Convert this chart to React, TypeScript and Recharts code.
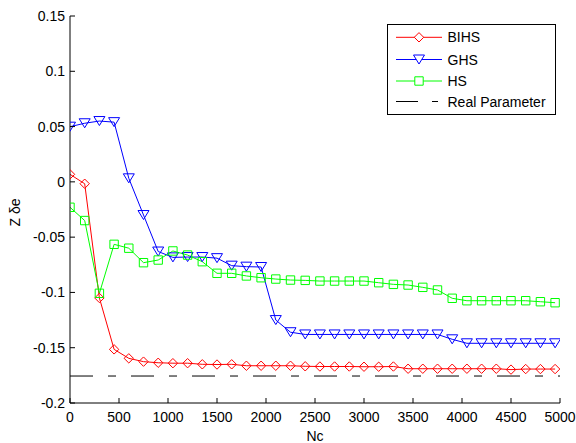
import React from 'react';
import { LineChart, Line, XAxis, YAxis, Legend } from 'recharts';

const nc = [0, 150, 300, 450, 600, 750, 900, 1050, 1200, 1350, 1500, 1650, 1800, 1950, 2100, 2250, 2400, 2550, 2700, 2850, 3000, 3150, 3300, 3450, 3600, 3750, 3900, 4050, 4200, 4350, 4500, 4650, 4800, 4950];
const bihs = [0.0068, -0.0017, -0.105, -0.1515, -0.1596, -0.1626, -0.1636, -0.164, -0.164, -0.165, -0.1652, -0.165, -0.1663, -0.1663, -0.1663, -0.1663, -0.1668, -0.1670, -0.1670, -0.1670, -0.1672, -0.1672, -0.1670, -0.1690, -0.1690, -0.1690, -0.1690, -0.1690, -0.1690, -0.1690, -0.1698, -0.1693, -0.1693, -0.1693];
const ghs = [0.0499, 0.053, 0.055, 0.054, 0.0032, -0.030, -0.063, -0.0683, -0.068, -0.068, -0.069, -0.0758, -0.0767, -0.077, -0.125, -0.136, -0.138, -0.138, -0.138, -0.138, -0.138, -0.138, -0.138, -0.138, -0.138, -0.138, -0.1424, -0.146, -0.146, -0.146, -0.146, -0.146, -0.146, -0.146];
const hs = [-0.023, -0.035, -0.1008, -0.0565, -0.060, -0.0731, -0.0707, -0.0625, -0.0662, -0.0722, -0.0827, -0.0827, -0.0851, -0.0867, -0.0879, -0.0888, -0.0891, -0.0897, -0.0897, -0.0897, -0.0897, -0.0912, -0.0927, -0.0933, -0.0954, -0.0978, -0.1053, -0.1075, -0.1075, -0.1075, -0.1075, -0.1075, -0.1084, -0.1093];
const realParameter = -0.1756;
const realX = [0, 5000];

const xTicks = [0, 500, 1000, 1500, 2000, 2500, 3000, 3500, 4000, 4500, 5000];
const xTickLabels = ['0', '500', '1000', '1500', '2000', '2500', '3000', '3500', '4000', '4500', '5000'];
const yTicks = [-0.2, -0.15, -0.1, -0.05, 0, 0.05, 0.1, 0.15];
const yTickLabels = ['-0.2', '-0.15', '-0.1', '-0.05', '0', '0.05', '0.1', '0.15'];

const seriesNames = ['BIHS', 'GHS', 'HS', 'Real Parameter'];
const seriesColors = ['#ff0000', '#0000ff', '#00ff00', '#000000'];

const FONT = '"Liberation Sans", Arial, Helvetica, sans-serif';
const REAL_DASH = '23 15 8 15';

const data = nc.map((x, i) => ({ x, bihs: bihs[i], ghs: ghs[i], hs: hs[i] }));
const realData = realX.map((x) => ({ x, real: realParameter }));

const diamondPath = (cx: number, cy: number, r: number) =>
  `M${cx},${cy - r}L${cx + r},${cy}L${cx},${cy + r}L${cx - r},${cy}Z`;
const trianglePath = (cx: number, cy: number) =>
  `M${cx - 5.5},${cy - 4.5}L${cx + 5.5},${cy - 4.5}L${cx},${cy + 4.5}Z`;
const squarePath = (cx: number, cy: number, h: number) =>
  `M${cx - h},${cy - h}L${cx + h},${cy - h}L${cx + h},${cy + h}L${cx - h},${cy + h}Z`;

const makeDot = (kind: string, color: string) => (props: any) => {
  const { cx, cy, index } = props;
  if (cx == null || cy == null) return <g key={`${kind}-${index}`} />;
  let d = '';
  if (kind === 'diamond') d = diamondPath(cx, cy, 4.7);
  else if (kind === 'triangle') d = trianglePath(cx, cy);
  else d = squarePath(cx, cy, 4.2);
  return <path key={`${kind}-${index}`} d={d} fill="none" stroke={color} strokeWidth={1} />;
};

const BottomTick = (props: any) => {
  const { x, y, payload } = props;
  const i = xTicks.indexOf(payload.value);
  return (
    <g>
      <line x1={x} x2={x} y1={y} y2={y - 5} stroke="#000" strokeWidth={1} />
      <text x={x} y={y + 18.5} textAnchor="middle" fontSize={14} fontFamily={FONT} fill="#000">
        {xTickLabels[i]}
      </text>
    </g>
  );
};
const TopTick = (props: any) => {
  const { x, y } = props;
  return <line x1={x} x2={x} y1={y} y2={y + 5} stroke="#000" strokeWidth={1} />;
};
const LeftTick = (props: any) => {
  const { x, y, payload } = props;
  const i = yTicks.findIndex((t) => Math.abs(t - payload.value) < 1e-9);
  return (
    <g>
      <line x1={x} x2={x + 5} y1={y} y2={y} stroke="#000" strokeWidth={1} />
      <text x={x - 5} y={y + 5} textAnchor="end" fontSize={14} fontFamily={FONT} fill="#000">
        {yTickLabels[i]}
      </text>
    </g>
  );
};
const RightTick = (props: any) => {
  const { x, y } = props;
  return <line x1={x - 5} x2={x} y1={y} y2={y} stroke="#000" strokeWidth={1} />;
};

const XLabel = (props: any) => {
  const vb = props.viewBox || { x: 70, y: 403, width: 490, height: 40 };
  return (
    <text x={vb.x + vb.width / 2} y={vb.y + 38} textAnchor="middle" fontSize={14} fontFamily={FONT} fill="#000">
      Nc
    </text>
  );
};
const YLabel = (props: any) => {
  const vb = props.viewBox || { x: 0, y: 16, width: 70, height: 387 };
  const cx = vb.x + 20;
  const cy = vb.y + vb.height / 2 + 3;
  return (
    <text x={cx} y={cy} transform={`rotate(-90 ${cx} ${cy})`} textAnchor="middle" fontSize={14} fontFamily={FONT} fill="#000">
      Z δe
    </text>
  );
};

const LegendBox = () => {
  const rows = [13.3, 35.5, 57, 77.5];
  return (
    <svg width={169} height={91} style={{ display: 'block' }}>
      <rect x={0.5} y={0.5} width={168} height={90} fill="#fff" stroke="#000" strokeWidth={1} />
      {seriesNames.map((name, i) => {
        const cy = rows[i];
        const color = seriesColors[i];
        return (
          <g key={name}>
            {i < 3 ? (
              <line x1={9} x2={55} y1={cy} y2={cy} stroke={color} strokeWidth={1} />
            ) : (
              <line x1={9} x2={55} y1={cy} y2={cy} stroke={color} strokeWidth={1} strokeDasharray="22 14 6 100" />
            )}
            {i === 0 && <path d={diamondPath(32, cy, 4.7)} fill="#fff" stroke={color} />}
            {i === 1 && <path d={trianglePath(32, cy)} fill="#fff" stroke={color} />}
            {i === 2 && <path d={squarePath(32, cy, 4.2)} fill="#fff" stroke={color} />}
            <text x={60.5} y={cy + 5} fontSize={14} fontFamily={FONT} fill="#000">
              {name}
            </text>
          </g>
        );
      })}
    </svg>
  );
};

export default function App() {
  return (
    <div style={{ position: 'absolute', left: 0, top: 0, width: 576, height: 443, background: '#fff' }}>
      <LineChart width={576} height={443} data={data} margin={{ top: 16, right: 16, bottom: 0, left: 0 }}>
        <XAxis
          xAxisId="bottom"
          dataKey="x"
          type="number"
          domain={[0, 5000]}
          ticks={xTicks}
          interval={0}
          orientation="bottom"
          height={40}
          tickSize={0}
          tickMargin={0}
          tickLine={false}
          tick={<BottomTick />}
          axisLine={{ stroke: '#000', strokeWidth: 1 }}
          allowDataOverflow
          label={<XLabel />}
        />
        <XAxis
          xAxisId="top"
          dataKey="x"
          type="number"
          domain={[0, 5000]}
          ticks={xTicks}
          interval={0}
          orientation="top"
          height={0}
          tickSize={0}
          tickMargin={0}
          tickLine={false}
          tick={<TopTick />}
          axisLine={{ stroke: '#000', strokeWidth: 1 }}
          allowDataOverflow
        />
        <YAxis
          yAxisId="left"
          type="number"
          domain={[-0.2, 0.15]}
          ticks={yTicks}
          interval={0}
          orientation="left"
          width={70}
          tickSize={0}
          tickMargin={0}
          tickLine={false}
          tick={<LeftTick />}
          axisLine={{ stroke: '#000', strokeWidth: 1 }}
          allowDataOverflow
          label={<YLabel />}
        />
        <YAxis
          yAxisId="right"
          type="number"
          domain={[-0.2, 0.15]}
          ticks={yTicks}
          interval={0}
          orientation="right"
          width={0}
          tickSize={0}
          tickMargin={0}
          tickLine={false}
          tick={<RightTick />}
          axisLine={{ stroke: '#000', strokeWidth: 1 }}
          allowDataOverflow
        />
        <Legend
          layout="horizontal"
          verticalAlign="middle"
          align="center"
          wrapperStyle={{ position: 'absolute', left: 387, top: 24, width: 169, height: 91 }}
          content={<LegendBox />}
        />
        <Line
          xAxisId="bottom"
          yAxisId="left"
          dataKey="bihs"
          name={seriesNames[0]}
          stroke={seriesColors[0]}
          strokeWidth={1}
          dot={makeDot('diamond', seriesColors[0])}
          activeDot={false}
          isAnimationActive={false}
        />
        <Line
          xAxisId="bottom"
          yAxisId="left"
          dataKey="ghs"
          name={seriesNames[1]}
          stroke={seriesColors[1]}
          strokeWidth={1}
          dot={makeDot('triangle', seriesColors[1])}
          activeDot={false}
          isAnimationActive={false}
        />
        <Line
          xAxisId="bottom"
          yAxisId="left"
          dataKey="hs"
          name={seriesNames[2]}
          stroke={seriesColors[2]}
          strokeWidth={1}
          dot={makeDot('square', seriesColors[2])}
          activeDot={false}
          isAnimationActive={false}
        />
        <Line
          xAxisId="bottom"
          yAxisId="left"
          data={realData}
          dataKey="real"
          name={seriesNames[3]}
          stroke={seriesColors[3]}
          strokeWidth={1}
          strokeDasharray={REAL_DASH}
          dot={false}
          activeDot={false}
          isAnimationActive={false}
        />
      </LineChart>
    </div>
  );
}
